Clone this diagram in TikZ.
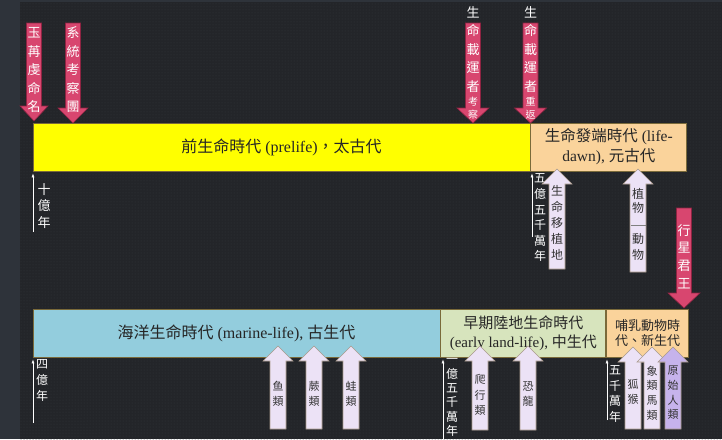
\documentclass[tikz,border=0pt]{standalone}
\usepackage{fontspec}
\setmainfont{Liberation Serif}
\newfontfamily\cjk{Noto Sans CJK TC}
\usetikzlibrary{positioning, patterns, arrows.meta}

\definecolor{bgdark}{HTML}{232529}
\definecolor{bgside}{HTML}{2E333A}
\definecolor{bgdot}{HTML}{34373C}
\definecolor{prelifecol}{HTML}{FFFF00}
\definecolor{dawncol}{HTML}{FAD39B}
\definecolor{marinecol}{HTML}{93CDDD}
\definecolor{landcol}{HTML}{D7E4BD}
\definecolor{barline}{HTML}{7A6A3A}
\definecolor{arrpink}{HTML}{D8466F}
\definecolor{arrpinkdark}{HTML}{8E2442}
\definecolor{arrlav}{HTML}{ECE2F6}
\definecolor{arrlavdark}{HTML}{C6B3EC}
\definecolor{arrlavline}{HTML}{A8998A}

% block arrows: centre x, top y, tip y, head half width
\newcommand\pinkdown[4]{%
  \path[pinkarr] (#1-7.5,#2) -- (#1+7.5,#2) -- (#1+7.5,#3-15) -- (#1+#4,#3-15)
    -- (#1,#3) -- (#1-#4,#3-15) -- (#1-7.5,#3-15) -- cycle;}
% centre x, tip y, bottom y, style
\newcommand\lavup[4]{%
  \path[#4] (#1-8,#3) -- (#1+8,#3) -- (#1+8,#2+15) -- (#1+15,#2+15)
    -- (#1,#2) -- (#1-15,#2+15) -- (#1-8,#2+15) -- cycle;}

\begin{document}
\begin{tikzpicture}[%
    x=1pt, y=-1pt,
    bar/.style={draw=barline, line width=0.8pt, inner sep=0pt, align=center,
      text=black!85, minimum height=48pt, font=\fontsize{16}{20}\selectfont},
    pinkarr/.style={fill=arrpink, draw=arrpinkdark, line width=0.6pt},
    lavarr/.style={fill=arrlav, draw=arrlavline, line width=0.6pt},
    lavdark/.style={fill=arrlavdark, draw=arrlavline, line width=0.6pt},
    pinktext/.style={text=white, inner sep=0pt, align=center,
      font=\cjk\fontsize{13}{18.5}\selectfont},
    lavtext/.style={text=black!80, inner sep=0pt, align=center,
      font=\cjk\fontsize{11}{15.5}\selectfont},
    tick/.style={-{Latex[length=4pt,width=3pt]}, white!85, line width=0.6pt, shorten >=2pt},
    ticktext/.style={text=white!90, inner sep=0pt, align=center,
      font=\cjk\fontsize{12}{15.6}\selectfont}
  ]

  % background
  \useasboundingbox (0,0) rectangle (722,439);
  \fill[bgside] (0,0) rectangle (722,439);
  \fill[bgdark] (20,2) rectangle (722,439);
  \fill[pattern=dots, pattern color=bgdot] (20,2) rectangle (722,439);

  % eras
  \node[bar, fill=prelifecol, minimum width=497pt] (prelife) at (281.5,147)
    {{\cjk 前生命時代} (prelife){\cjk ，太古代}};
  \node[bar, fill=dawncol, minimum width=156pt, font=\fontsize{15.5}{20}\selectfont]
    (lifedawn) [right=0pt of prelife] {{\cjk 生命發端時代} (life-\\dawn), {\cjk 元古代}};
  \node[bar, fill=marinecol, minimum width=407pt] (marine) at (236.5,333)
    {{\cjk 海洋生命時代} (marine-life), {\cjk 古生代}};
  \node[bar, fill=landcol, minimum width=165pt, font=\fontsize{15}{19}\selectfont]
    (earlyland) [right=0pt of marine] {{\cjk 早期陸地生命時代}\\(early land-life), {\cjk 中生代}};
  \node[bar, fill=dawncol, minimum width=82pt, font=\cjk\fontsize{13}{15}\selectfont]
    (mammal) [right=0pt of earlyland] {哺乳動物時\\代、新生代};

  % time marks
  \coordinate (t1) at (33,232);
  \coordinate (t2) at (532,237);
  \coordinate (t3) at (33,423);
  \coordinate (t4) at (443,439);
  \coordinate (t5) at (607,420);
  \draw[tick] (t1) -- (t1 |- prelife.south);
  \draw[tick] (t2) -- (t2 |- lifedawn.south);
  \draw[tick] (t3) -- (t3 |- marine.south);
  \draw[tick] (t4) -- (t4 |- earlyland.south);
  \draw[tick] (t5) -- (t5 |- mammal.south);
  \node[ticktext, font=\cjk\fontsize{13}{16.5}\selectfont] (tenbn) at (44,206) {十\\億\\年};
  \node[ticktext] (fivefifty) at (540,218) {五\\億\\五\\千\\萬\\年};
  \node[ticktext, font=\cjk\fontsize{12}{16}\selectfont] (fourbn) at (42,380) {四\\億\\年};
  \node[ticktext, font=\cjk\fontsize{12}{14.4}\selectfont] (onefifty) at (452,397.5) {一\\億\\五\\千\\萬\\年};
  \node[ticktext, font=\cjk\fontsize{12}{15.8}\selectfont] (fifty) at (615,394) {五\\千\\萬\\年};

  % events from above
  \pinkdown{34}{23}{121}{14}
  \pinkdown{73}{23}{123}{15}
  \pinkdown{473}{23}{123}{16}
  \pinkdown{530.5}{23}{123}{16}
  \pinkdown{684}{208}{308}{16}
  \node[pinktext] (naming) at (34,70) {玉\\苒\\虔\\命\\名};
  \node[pinktext] (survey) at (73,70) {系\\統\\考\\察\\團};
  \node[pinktext] (carrier) at (473,49.5) {生\\命\\載\\運\\者};
  \node[pinktext, font=\cjk\fontsize{10}{13}\selectfont] (carrierb) at (473,108.5) {考\\察};
  \node[pinktext] (return) at (530.5,49.5) {生\\命\\載\\運\\者};
  \node[pinktext, font=\cjk\fontsize{10}{13}\selectfont] (returnb) at (530.5,108.5) {重\\返};
  \node[pinktext, font=\cjk\fontsize{13}{17.7}\selectfont] (king) at (684,256.5) {行\\星\\君\\王};

  % life from below
  \lavup{557}{169}{269}{lavarr}
  \lavup{638}{169}{272}{lavarr}
  \draw[gray] (630.5,225) -- (645.5,225);
  \lavup{278}{346}{429}{lavarr}
  \lavup{314}{346}{429}{lavarr}
  \lavup{351}{346}{429}{lavarr}
  \lavup{480}{346}{430}{lavarr}
  \lavup{528}{346}{430}{lavarr}
  \lavup{633}{347}{429}{lavarr}
  \lavup{652}{347}{429}{lavarr}
  \lavup{673}{347}{429}{lavdark}
  \node[lavtext, font=\cjk\fontsize{12}{16}\selectfont] (transplant) at (557,223) {生\\命\\移\\植\\地};
  \node[lavtext, font=\cjk\fontsize{12}{14}\selectfont] (plants) at (638,201) {植\\物};
  \node[lavtext, font=\cjk\fontsize{12}{16}\selectfont] (animals) at (638,247) {動\\物};
  \node[lavtext] (fish) at (278,394) {鱼\\類};
  \node[lavtext] (fern) at (314,394) {蕨\\類};
  \node[lavtext] (frog) at (351,394) {蛙\\類};
  \node[lavtext] (reptile) at (480,395) {爬\\行\\類};
  \node[lavtext] (dino) at (528,394) {恐\\龍};
  \node[lavtext] (lemur) at (633,392) {狐\\猴};
  \node[lavtext, font=\cjk\fontsize{11}{14.7}\selectfont] (elephant) at (652,393) {象\\類\\馬\\類};
  \node[lavtext, font=\cjk\fontsize{11}{14.7}\selectfont] (hominid) at (673,393) {原\\始\\人\\類};
\end{tikzpicture}
\end{document}
